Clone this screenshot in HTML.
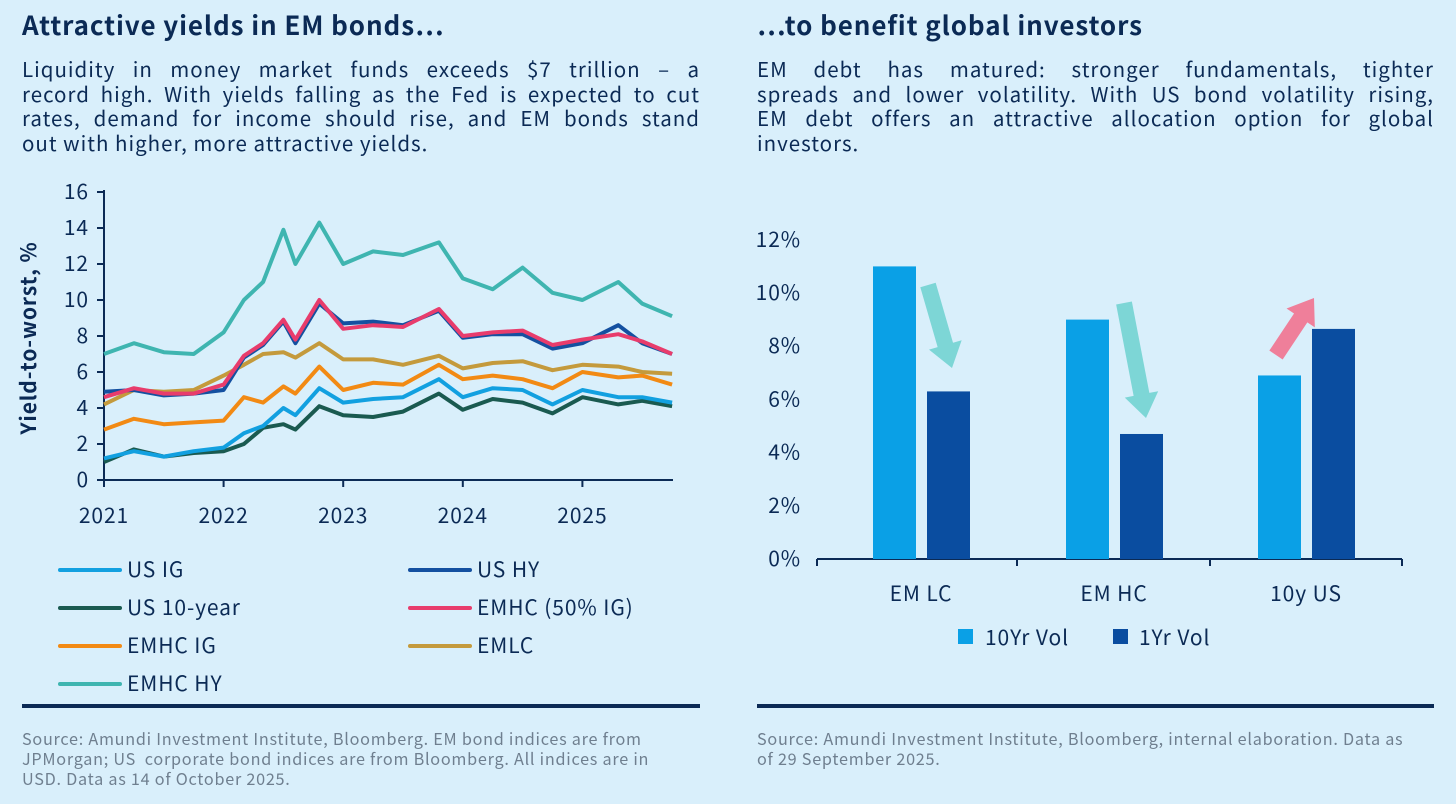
<!DOCTYPE html>
<html><head><meta charset="utf-8"><style>
body{margin:0;width:1456px;height:804px;background:#d9effb;font-family:"Noto Sans CJK JP","DejaVu Sans",sans-serif;color:#0b2a55;overflow:hidden;position:relative}
.t{position:absolute;font-weight:bold;font-size:26px;letter-spacing:0.9px;top:7px;line-height:36px}
.p{position:absolute;font-size:20.5px;letter-spacing:1px;line-height:24.5px;top:56px;color:#0b2a55}
.p span{display:block;white-space:nowrap;text-align:justify;text-align-last:justify}
.p span.l{text-align-last:left}
.src{position:absolute;top:728px;font-size:16.2px;letter-spacing:0.75px;line-height:20px;color:#6f7f8f;white-space:nowrap}
.rule{position:absolute;top:704px;height:4px;background:#0b2a55}
svg{position:absolute;left:0;top:0;font-family:"Noto Sans CJK JP","DejaVu Sans",sans-serif;letter-spacing:0.9px}
</style></head><body>
<div class="t" style="left:22px">Attractive yields in EM bonds…</div>
<div class="t" style="left:757px">…to benefit global investors</div>
<div class="p" style="left:22px;width:678px"><span>Liquidity in money market funds exceeds $7 trillion – a</span><span>record high. With yields falling as the Fed is expected to cut</span><span>rates, demand for income should rise, and EM bonds stand</span><span class="l">out with higher, more attractive yields.</span></div>
<div class="p" style="left:757px;width:677px"><span>EM debt has matured: stronger fundamentals, tighter</span><span>spreads and lower volatility. With US bond volatility rising,</span><span>EM debt offers an attractive allocation option for global</span><span class="l">investors.</span></div>
<div class="rule" style="left:22px;width:678px"></div>
<div class="rule" style="left:757px;width:677px"></div>
<div class="src" style="left:22px">Source: Amundi Investment Institute, Bloomberg. EM bond indices are from<br>JPMorgan; US&nbsp; corporate bond indices are from Bloomberg. All indices are in<br>USD. Data as 14 of October 2025.</div>
<div class="src" style="left:757px">Source: Amundi Investment Institute, Bloomberg, internal elaboration. Data as<br>of 29 September 2025.</div>
<svg id="s" width="1456" height="804"></svg>
<script>
const times=[2021.0,2021.25,2021.5,2021.75,2022.0,2022.17,2022.33,2022.5,2022.6,2022.8,2023.0,2023.25,2023.5,2023.8,2024.0,2024.25,2024.5,2024.75,2025.0,2025.3,2025.5,2025.75];
const emhcHY=[7.0,7.6,7.1,7.0,8.2,10.0,11.0,13.9,12.0,14.3,12.0,12.7,12.5,13.2,11.2,10.6,11.8,10.4,10.0,11.0,9.8,9.1];
const usHY=[4.9,5.0,4.7,4.8,5.0,6.8,7.5,8.8,7.6,9.8,8.7,8.8,8.6,9.4,7.9,8.1,8.1,7.3,7.6,8.6,7.6,7.0];
const emhc50=[4.6,5.1,4.8,4.8,5.3,6.9,7.6,8.9,7.8,10.0,8.4,8.6,8.5,9.5,8.0,8.2,8.3,7.5,7.8,8.1,7.7,7.0];
const emlc=[4.2,5.0,4.9,5.0,5.8,6.4,7.0,7.1,6.8,7.6,6.7,6.7,6.4,6.9,6.2,6.5,6.6,6.1,6.4,6.3,6.0,5.9];
const emhcIG=[2.8,3.4,3.1,3.2,3.3,4.6,4.3,5.2,4.8,6.3,5.0,5.4,5.3,6.4,5.6,5.8,5.6,5.1,6.0,5.7,5.8,5.3];
const usIG=[1.2,1.6,1.3,1.6,1.8,2.6,3.0,4.0,3.6,5.1,4.3,4.5,4.6,5.6,4.6,5.1,5.0,4.2,5.0,4.6,4.6,4.3];
const us10=[1.0,1.7,1.3,1.5,1.6,2.0,2.9,3.1,2.8,4.1,3.6,3.5,3.8,4.8,3.9,4.5,4.3,3.7,4.6,4.2,4.4,4.1];
const yTicks=[0,2,4,6,8,10,12,14,16];
const xTicks=[2021,2022,2023,2024,2025];
const barCats=["EM LC","EM HC","10y US"];
const vol10=[11.0,9.0,6.9];
const vol1=[6.3,4.7,8.65];
const barTicks=[0,2,4,6,8,10,12];

const S=document.getElementById('s');const NS='http://www.w3.org/2000/svg';
function mk(t,a,txt){const e=document.createElementNS(NS,t);for(const k in a)e.setAttribute(k,a[k]);if(txt!==undefined)e.textContent=txt;S.appendChild(e);return e;}
const X=t=>104+(t-2021)*119.6, Y=v=>480-v*18;
let e=mk('line',{x1:104,y1:190,x2:104,y2:480,stroke:'#0b2a55','stroke-width':2});

e=mk('line',{x1:104,y1:480,x2:673,y2:480,stroke:'#0b2a55','stroke-width':2});

yTicks.forEach(v=>{mk('line',{x1:97,y1:Y(v),x2:104,y2:Y(v),stroke:'#0b2a55','stroke-width':2});
 e=mk('text',{x:89,y:Y(v)+7,'text-anchor':'end','font-size':21,fill:'#0b2a55'},v);
 });
xTicks.forEach(v=>{mk('line',{x1:X(v),y1:480,x2:X(v),y2:487,stroke:'#0b2a55','stroke-width':2});
 e=mk('text',{x:X(v),y:523,'text-anchor':'middle','font-size':21,fill:'#0b2a55'},v);
 });
e=mk('text',{x:0,y:0,transform:'translate(36,338) rotate(-90)','text-anchor':'middle','font-size':21,'font-weight':'bold',fill:'#0b2a55'},'Yield-to-worst, %');

const series=[["emhc-hy",emhcHY,"#3fb5b0"],["us-10-year",us10,"#1a5a50"],["us-ig",usIG,"#12a0e0"],["emhc-ig",emhcIG,"#f28a14"],["emlc",emlc,"#c49a3c"],["us-hy",usHY,"#1450a0"],["emhc-50-ig",emhc50,"#e83c6c"]];
series.forEach(([n,d,c])=>{const pts=d.map((v,i)=>X(times[i]).toFixed(1)+','+Y(v).toFixed(1)).join(' ');
 e=mk('polyline',{points:pts,fill:'none',stroke:c,'stroke-width':4,'stroke-linejoin':'round'});
 });
const leg=[["US IG","#12a0e0",60,570],["US HY","#1450a0",410,570],["US 10-year","#1a5a50",60,608],["EMHC (50% IG)","#e83c6c",410,608],["EMHC IG","#f28a14",60,646],["EMLC","#c49a3c",410,646],["EMHC HY","#3fb5b0",60,684]];
leg.forEach(([t,c,x,y])=>{mk('line',{x1:x,y1:y,x2:x+60,y2:y,stroke:c,'stroke-width':4,'stroke-linecap':'round'});
 e=mk('text',{x:x+67,y:y+7,'font-size':21,fill:'#0b2a55'},t);
 });
const BY=v=>559-v*26.6, cx=[921,1114,1306];
e=mk('line',{x1:817,y1:559,x2:1402,y2:559,stroke:'#0b2a55','stroke-width':2});

[817,1017,1210,1402].forEach(x=>mk('line',{x1:x,y1:559,x2:x,y2:566,stroke:'#0b2a55','stroke-width':2}));
barTicks.forEach(v=>{e=mk('text',{x:801,y:BY(v)+7,'text-anchor':'end','font-size':21,fill:'#0b2a55'},v+'%');
 });
barCats.forEach((c,i)=>{
 e=mk('rect',{x:cx[i]-48,y:BY(vol10[i]),width:43,height:559-BY(vol10[i]),fill:'#0aa0e6'});
 
 e=mk('rect',{x:cx[i]+6,y:BY(vol1[i]),width:43,height:559-BY(vol1[i]),fill:'#0a4da0'});
 
 e=mk('text',{x:cx[i],y:601,'text-anchor':'middle','font-size':21,fill:'#0b2a55'},c);
 });
function arrow(x1,y1,x2,y2,c,n){const dx=x2-x1,dy=y2-y1,L=Math.hypot(dx,dy),ux=dx/L,uy=dy/L,px=-uy,py=ux,w=8,hw=17,hl=24;
 const bx=x2-ux*hl,by=y2-uy*hl;
 const P=[[x1+px*w,y1+py*w],[bx+px*w,by+py*w],[bx+px*hw,by+py*hw],[x2,y2],[bx-px*hw,by-py*hw],[bx-px*w,by-py*w],[x1-px*w,y1-py*w]];
 e=mk('polygon',{points:P.map(p=>p.join(',')).join(' '),fill:c});
 }
arrow(928,285,952,368,'#7dd6d6','arrow-down-emlc');
arrow(1124,303,1146,418,'#7dd6d6','arrow-down-emhc');
arrow(1276,355,1314,298,'#ef7f9a','arrow-up-us');
e=mk('rect',{x:958,y:629,width:15,height:15,fill:'#0aa0e6'});
e=mk('text',{x:985,y:645,'font-size':21,fill:'#0b2a55'},'10Yr Vol');
e=mk('rect',{x:1113,y:629,width:15,height:15,fill:'#0a4da0'});
e=mk('text',{x:1139,y:645,'font-size':21,fill:'#0b2a55'},'1Yr Vol');
</script>
</body></html>
